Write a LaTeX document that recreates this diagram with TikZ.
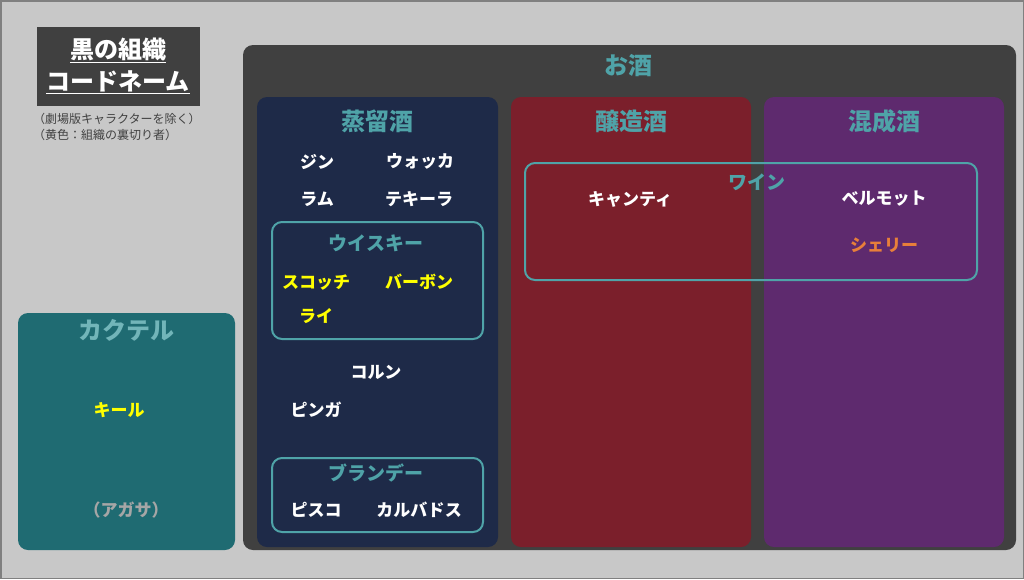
\documentclass[tikz,border=0pt]{standalone}
\usepackage{fontspec}
\setmainfont{Noto Sans CJK JP}
\usetikzlibrary{positioning}
\definecolor{bgc}{HTML}{C8C8C8}
\definecolor{darkc}{HTML}{404040}
\definecolor{tealc}{HTML}{4FA3A8}
\definecolor{navyc}{HTML}{1E2A48}
\definecolor{winec}{HTML}{7B1F2B}
\definecolor{purplec}{HTML}{5E2A6E}
\definecolor{cocktc}{HTML}{1F6B72}
\definecolor{yelc}{HTML}{FFFF00}
\definecolor{orc}{HTML}{E87F3A}
\tikzset{
  panel/.style={rounded corners=10pt},
  head/.style={text=tealc, font=\fontsize{24}{26}\selectfont\bfseries},
  sub/.style={text=tealc, font=\fontsize{19}{21}\selectfont\bfseries},
  item/.style={text=white, font=\fontsize{17}{19}\selectfont\bfseries},
  grp/.style={draw=tealc, line width=2pt, rounded corners=10pt},
}
\begin{document}
\begin{tikzpicture}[x=1pt,y=-1pt]
\fill[bgc] (0,0) rectangle (1024,579);
\draw[gray, line width=1.5pt] (0.75,0.75) rectangle (1023.25,578.25);
% title
\fill[darkc] (37,27) rectangle (200,106);
\node[text=white, font=\fontsize{24}{26}\selectfont\bfseries] (t1) at (118,50) {\underline{黒の組織}};
\node[text=white, font=\fontsize{24}{26}\selectfont\bfseries] (t2) at (118,82) {\underline{コードネーム}};
\node[anchor=west, text=darkc, font=\fontsize{12}{14}\selectfont, inner sep=0pt] (n1) at (33,119) {（劇場版キャラクターを除く）};
\node[anchor=west, text=darkc, font=\fontsize{12}{14}\selectfont, inner sep=0pt] (n2) at (33,135) {（黄色：組織の裏切り者）};
% sake
\fill[darkc, panel] (243,45) rectangle (1016,550);
\node[head] (osake) at (628,66) {お酒};
\fill[navyc, panel] (257,97) rectangle (498,547);
\fill[winec, panel] (511,97) rectangle (751,547);
\fill[purplec, panel] (764,97) rectangle (1004,547);
\node[head] (jouryu) at (377,121) {蒸留酒};
\node[head] (jouzou) at (631,121) {醸造酒};
\node[head] (konsei) at (884,121) {混成酒};
\node[item] (gin) at (317,162) {ジン};
\node[item] (vodka) at (420,161) {ウォッカ};
\node[item] (rum) at (317,199) {ラム};
\node[item] (tequila) at (419,199) {テキーラ};
\draw[grp] (272,222) rectangle (483,339);
\node[sub] (whisky) at (376,243) {ウイスキー};
\node[item, text=yelc] (scotch) at (316,282) {スコッチ};
\node[item, text=yelc] (bourbon) at (419,282) {バーボン};
\node[item, text=yelc] (rye) at (316,316) {ライ};
\node[item] (korn) at (376,372) {コルン};
\node[item] (pinga) at (316,410) {ピンガ};
\draw[grp] (272,458) rectangle (483,532);
\node[sub] (brandy) at (376,473) {ブランデー};
\node[item] (pisco) at (316,510) {ピスコ};
\node[item] (calvados) at (419,510) {カルバドス};
\draw[grp] (525,163) rectangle (977,280);
\node[sub] (wine) at (757,182) {ワイン};
\node[item] (chianti) at (630,199) {キャンティ};
\node[item] (vermouth) at (884,199) {ベルモット};
\node[item, text=orc] (sherry) at (884,245) {シェリー};
% cocktail
\fill[cocktc, panel] (18,313) rectangle (235,550);
\node[head, text=tealc!80!white] (cocktail) at (126,330) {カクテル};
\node[item, text=yelc] (kir) at (119,410) {キール};
\node[item, text=gray!70] (agasa) at (126,510) {（アガサ）};
\end{tikzpicture}
\end{document}
